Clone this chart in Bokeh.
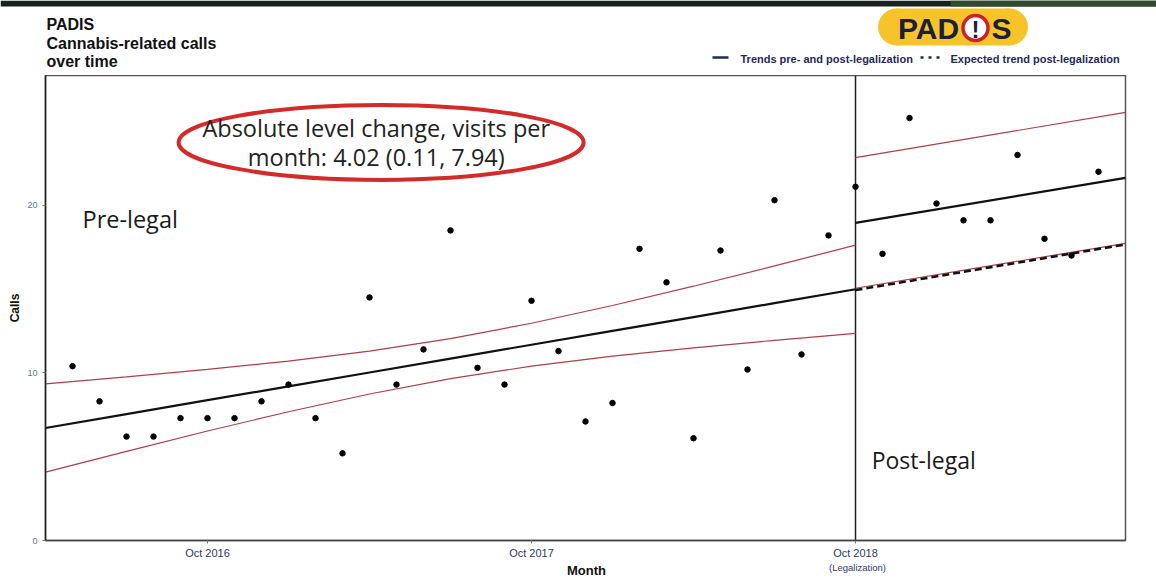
from bokeh.plotting import figure
from bokeh.layouts import column
from bokeh.models import Range1d, FixedTicker
from bokeh.core.properties import value
from bokeh.embed import file_html
from bokeh.resources import INLINE

# ---------------- data ----------------
# month index 0 = May 2016 ... 38 = Jul 2019 ; 29 = Oct 2018 (legalization)
months = list(range(39))
calls = [10.4, 8.3, 6.2, 6.2, 7.3, 7.3, 7.3, 8.3, 9.3, 7.3,
         5.2, 14.5, 9.3, 11.4, 18.5, 10.3, 9.3, 14.3, 11.3, 7.1,
         8.2, 17.4, 15.4, 6.1, 17.3, 10.2, 20.3, 11.1, 18.2, 21.1,
         17.1, 25.2, 20.1, 19.1, 19.1, 23.0, 18.0, 17.0, 22.0]

legal_month = 29

pre_x = [-1, 2, 5, 8, 11, 14, 17, 20, 23, 26, 29]
pre_trend = [6.71, 7.54, 8.37, 9.19, 10.02, 10.85, 11.68, 12.51, 13.33, 14.16, 14.99]
pre_upper = [9.34, 9.76, 10.21, 10.70, 11.30, 12.04, 12.96, 14.02, 15.17, 16.38, 17.62]
pre_lower = [4.08, 5.32, 6.53, 7.68, 8.74, 9.66, 10.40, 11.00, 11.49, 11.94, 12.36]

post_x = [29, 39]
post_trend = [18.95, 21.63]
post_upper = [22.84, 25.54]
post_lower = [15.05, 17.73]
expected_trend = [14.94, 17.66]

x_tick_pos = [5, 17, 29]
x_tick_labels = ["Oct 2016", "Oct 2017", "Oct 2018"]
y_tick_pos = [0, 10, 20]

annotation_lines = ["Absolute level change, visits per", "month: 4.02 (0.11, 7.94)"]
title_lines = ["PADIS", "Cannabis-related calls", "over time"]
legend_labels = ["Trends pre- and post-legalization", "Expected trend post-legalization"]

RED = "#ad3f47"
NAVY = "#1f2a5a"
TICKBLUE = "#2c3a66"


def strip(height):
    f = figure(width=1156, height=height, output_backend="svg", toolbar_location=None,
               min_border_left=0, min_border_right=0, min_border_top=0, min_border_bottom=0)
    try:
        f.frame_align = False
        xr = (0, 1156)
    except Exception:
        f.min_border_left = 45
        f.min_border_right = 31
        xr = (45, 1125)
    f.x_range = Range1d(*xr)
    f.y_range = Range1d(height, 0)
    f.axis.visible = False
    f.grid.visible = False
    f.outline_line_color = None
    return f


# ---------------- header ----------------
h = strip(75)

h.quad(left=[0], right=[1156], top=[0], bottom=[6], fill_color="#17211f", line_color=None)
h.quad(left=[950], right=[1156], top=[0], bottom=[6], fill_color="#2f4a2c", line_color=None)

for i, t in enumerate(title_lines):
    h.text(x=[46], y=[24 + 18.5 * i], text=[t], text_font=value("Liberation Sans"),
           text_font_style="bold", text_font_size="16px", text_color="#111111",
           text_baseline="middle", text_align="left")

# logo
h.quad(left=[896], right=[1009], top=[8], bottom=[45], fill_color="#f6c42a", line_color=None)
h.circle(x=[896, 1009], y=[26.5, 26.5], radius=18.5, fill_color="#f6c42a", line_color=None)
h.text(x=[928], y=[28], text=["PAD"], text_font=value("Liberation Sans"), text_font_style="bold",
       text_font_size="30px", text_color="#1b1e3c", text_align="center", text_baseline="middle")
h.circle(x=[975], y=[27.5], radius=12.5, fill_color="white", line_color="#cf1f2b", line_width=3.5)
h.text(x=[975], y=[28.5], text=["!"], text_font=value("Liberation Sans"), text_font_style="bold",
       text_font_size="24px", text_color="#1b1e3c", text_align="center", text_baseline="middle")
h.text(x=[1001], y=[28], text=["S"], text_font=value("Liberation Sans"), text_font_style="bold",
       text_font_size="30px", text_color="#1b1e3c", text_align="center", text_baseline="middle")

# legend
h.line(x=[712, 728], y=[57, 57], line_color=NAVY, line_width=2.5)
h.text(x=[740], y=[58], text=[legend_labels[0]], text_font=value("Liberation Sans"),
       text_font_style="bold", text_font_size="11px", text_color=NAVY,
       text_align="left", text_baseline="middle")
h.line(x=[920, 939], y=[57, 57], line_color=NAVY, line_width=2.5, line_dash="3 5")
h.text(x=[950], y=[58], text=[legend_labels[1]], text_font=value("Liberation Sans"),
       text_font_style="bold", text_font_size="11px", text_color=NAVY,
       text_align="left", text_baseline="middle")

# ---------------- main plot ----------------
p = figure(width=1156, height=486, x_range=Range1d(-1, 39), y_range=Range1d(0, 27.74),
           output_backend="svg", toolbar_location=None,
           min_border_left=45, min_border_right=31, min_border_top=0, min_border_bottom=20)
try:
    p.frame_align = False
except Exception:
    pass
p.grid.visible = False
p.outline_line_color = "#555555"
p.outline_line_width = 1.5

p.xaxis.ticker = FixedTicker(ticks=x_tick_pos)
p.xaxis.major_label_overrides = {k: v for k, v in zip(x_tick_pos, x_tick_labels)}
p.xaxis.minor_tick_line_color = None
p.xaxis.major_tick_in = 0
p.xaxis.major_tick_out = 3
p.xaxis.major_tick_line_color = "#777777"
p.xaxis.axis_line_color = "#444444"
p.xaxis.axis_line_width = 1.5
p.xaxis.major_label_text_font = "Liberation Sans"
p.xaxis.major_label_text_font_size = "11px"
p.xaxis.major_label_text_color = TICKBLUE
p.xaxis.major_label_standoff = 3

p.yaxis.ticker = FixedTicker(ticks=y_tick_pos)
p.yaxis.minor_tick_line_color = None
p.yaxis.major_tick_in = 0
p.yaxis.major_tick_out = 3
p.yaxis.major_tick_line_color = "#777777"
p.yaxis.axis_line_color = "#222222"
p.yaxis.axis_line_width = 1.5
p.yaxis.major_label_text_font = "Liberation Sans"
p.yaxis.major_label_text_font_size = "9px"
p.yaxis.major_label_text_color = "#5a72a0"
p.yaxis.major_label_standoff = 5
p.yaxis.axis_label = "Calls"
p.yaxis.axis_label_text_font = "Liberation Sans"
p.yaxis.axis_label_text_font_style = "bold"
p.yaxis.axis_label_text_font_size = "12px"
p.yaxis.axis_label_text_color = "#111111"
p.yaxis.axis_label_standoff = 2

# legalization vertical line
p.segment(x0=[legal_month], y0=[0], x1=[legal_month], y1=[27.74], line_color="#222222", line_width=1.5)

# pre period
p.line(pre_x, pre_upper, line_color=RED, line_width=1.2)
p.line(pre_x, pre_lower, line_color=RED, line_width=1.2)
p.line(pre_x, pre_trend, line_color="#111111", line_width=2.2)

# post period
p.line(post_x, post_upper, line_color=RED, line_width=1.2)
p.line(post_x, post_lower, line_color=RED, line_width=1.2)
p.line(post_x, post_trend, line_color="#111111", line_width=2.2)
p.line(post_x, expected_trend, line_color="#111111", line_width=2.5, line_dash="7 4")

# points
p.scatter(months, calls, size=5.5, fill_color="#000000", line_color="#000000")

# text annotations
p.text(x=[0.37], y=[19.2], text=["Pre-legal"], text_font=value("Open Sans"), text_font_size="23.5px",
       text_color="#1a1a1a", text_align="left", text_baseline="middle")
p.text(x=[29.6], y=[4.8], text=["Post-legal"], text_font=value("Open Sans"), text_font_size="23px",
       text_color="#1a1a1a", text_align="left", text_baseline="middle")

p.ellipse(x=[11.43], y=[23.75], width=405, height=75, width_units="screen", height_units="screen",
          fill_color=None, line_color="#d42a2a", line_width=4)
p.text(x=[11.25], y=[24.6], text=[annotation_lines[0]], text_font=value("Open Sans"), text_font_size="23.5px",
       text_color="#222222", text_align="center", text_baseline="middle")
p.text(x=[11.25], y=[22.85], text=[annotation_lines[1]], text_font=value("Open Sans"), text_font_size="23.5px",
       text_color="#222222", text_align="center", text_baseline="middle")

# ---------------- footer ----------------
ft = strip(20)
ft.text(x=[586], y=[9], text=["Month"], text_font=value("Liberation Sans"), text_font_style="bold",
        text_font_size="13px", text_color="#111111", text_align="center", text_baseline="middle")
ft.text(x=[857], y=[6], text=["(Legalization)"], text_font=value("Liberation Sans"),
        text_font_size="9.5px", text_color=TICKBLUE, text_align="center", text_baseline="middle")

layout = column(h, p, ft, spacing=0)
open("out.html", "w").write(file_html(layout, INLINE))
